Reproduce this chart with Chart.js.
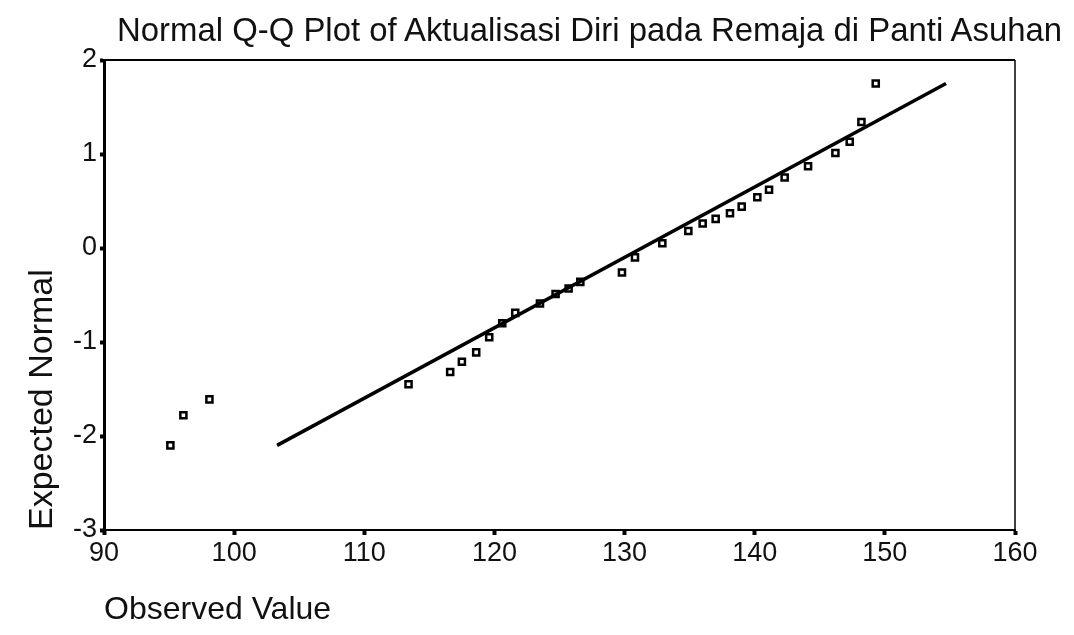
<!DOCTYPE html>
<html>
<head>
<meta charset="utf-8">
<title>Normal Q-Q Plot</title>
<script src="https://cdn.jsdelivr.net/npm/chart.js@4.4.1/dist/chart.umd.min.js"></script>
<style>
    body { margin: 0; background: #fff; }
    .wrap { position: relative; width: 1074px; height: 635px; }
    .chart-title {
        position: absolute; left: 117px; top: 12px;
        font-family: 'Liberation Sans', Arial, sans-serif; font-size: 32.9px; line-height: 36px;
        color: #111; white-space: nowrap;
    }
</style>
</head>
<body>
<div class="wrap">
    <div class="chart-title">Normal Q-Q Plot of Aktualisasi Diri pada Remaja di Panti Asuhan</div>
    <canvas id="qqChart"></canvas>
</div>
<script>
// ── DATA ──
const observed = [95.1, 96.1, 98.1, 113.4, 116.6, 117.5, 118.6, 119.6, 120.6, 121.6,
                  123.5, 124.7, 125.7, 126.6, 129.8, 130.8, 132.9, 134.9, 136.0, 137.0,
                  138.1, 139.0, 140.2, 141.1, 142.3, 144.1, 146.2, 147.3, 148.2, 149.3];
const expected = [-2.10, -1.78, -1.61, -1.45, -1.32, -1.21, -1.11, -0.95, -0.80, -0.69,
                  -0.59, -0.49, -0.43, -0.36, -0.26, -0.10, 0.05, 0.18, 0.26, 0.31,
                  0.37, 0.44, 0.54, 0.62, 0.75, 0.87, 1.01, 1.13, 1.34, 1.75];
const lineObserved = [103.3, 154.7];
const lineExpected = [-2.10, 1.75];
const xTicks = [90, 100, 110, 120, 130, 140, 150, 160];
const yTicks = [-3, -2, -1, 0, 1, 2];

const FONT = "'Liberation Sans', Arial, sans-serif";
const INK = '#111';

// top + right edges of the plot frame (x/y borders do the other two)
const framePlugin = {
    id: 'frame',
    afterDatasetsDraw(chart) {
        const { ctx, chartArea: a } = chart;
        ctx.save();
        ctx.strokeStyle = '#000';
        ctx.lineWidth = 2;
        ctx.beginPath(); ctx.moveTo(a.left, a.top); ctx.lineTo(a.right, a.top); ctx.stroke();
        ctx.lineWidth = 1.5;
        ctx.beginPath(); ctx.moveTo(a.right, a.top); ctx.lineTo(a.right, a.bottom); ctx.stroke();
        ctx.restore();
    }
};

new Chart(document.getElementById('qqChart'), {
    type: 'scatter',
    data: {
        datasets: [
            {
                type: 'line',
                data: lineObserved.map((x, i) => ({ x, y: lineExpected[i] })),
                borderColor: '#000', borderWidth: 3.5, pointRadius: 0, fill: false, order: 0
            },
            {
                data: observed.map((x, i) => ({ x, y: expected[i] })),
                pointStyle: 'rect', pointRadius: 4.3, borderWidth: 2.5,
                borderColor: '#000', backgroundColor: '#fff', order: 1
            }
        ]
    },
    options: {
        responsive: true, maintainAspectRatio: false, animation: false,
        layout: { padding: { top: 60, right: 59, left: 0, bottom: 0 } },
        plugins: { legend: { display: false }, tooltip: { enabled: false } },
        scales: {
            x: {
                type: 'linear', min: 90, max: 160,
                afterBuildTicks: s => { s.ticks = xTicks.map(v => ({ value: v })); },
                afterFit: s => { s.height = 105; },
                ticks: { font: { family: FONT, size: 27 }, color: INK, padding: 2 },
                grid: { drawOnChartArea: false, tickLength: 5, tickWidth: 4, tickColor: '#000' },
                border: { display: true, width: 2, color: '#000' },
                title: { display: true, text: 'Observed Value', align: 'start', color: INK,
                         font: { family: FONT, size: 32 }, padding: { top: 0, bottom: 6 } }
            },
            y: {
                type: 'linear', min: -3, max: 2,
                afterBuildTicks: s => { s.ticks = yTicks.map(v => ({ value: v })); },
                afterFit: s => { s.width = 104; },
                ticks: { font: { family: FONT, size: 27 }, color: INK, padding: 3 },
                grid: { drawOnChartArea: false, tickLength: 4, tickWidth: 4, tickColor: '#000' },
                border: { display: true, width: 3, color: '#000' },
                title: { display: true, text: 'Expected Normal', align: 'start', color: INK,
                         font: { family: FONT, size: 34 }, padding: { top: 22, bottom: 0 } }
            }
        }
    },
    plugins: [framePlugin]
});
</script>
</body>
</html>
